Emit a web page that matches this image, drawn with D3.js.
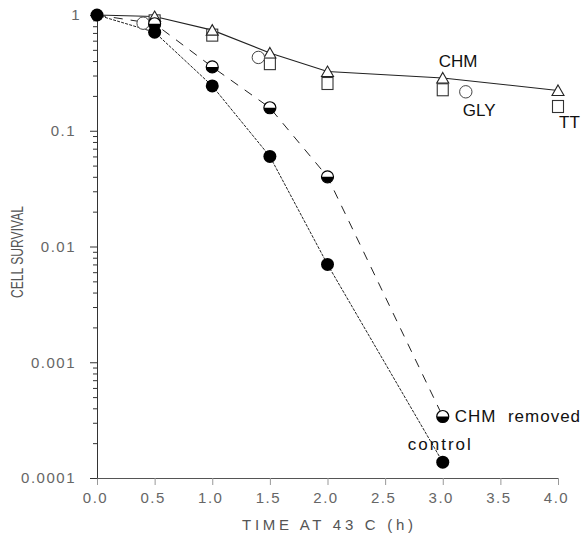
<!DOCTYPE html>
<html>
<head>
<meta charset="utf-8">
<script src="https://cdnjs.cloudflare.com/ajax/libs/d3/7.8.5/d3.min.js"></script>
<style>
	body { margin: 0; background: #fff; }
	svg { display: block; font-family: "Liberation Sans", Arial, sans-serif; }
	.tick-label { fill: #666; font-size: 15px; letter-spacing: 1.5px; }
	.series-label { fill: #111; font-size: 17px; white-space: pre; }
	.axis-title { fill: #555; font-size: 15px; }
</style>
</head>
<body>
<svg id="chart" width="586" height="538"></svg>
<script>
;( function() {

	"use strict";

	//hours at 43 C and surviving fraction
	var chmTime = [ 0, 0.5, 1, 1.5, 2, 3, 4 ],
		chmSurvival = [ 1, 0.97, 0.74, 0.47, 0.325, 0.286, 0.223 ];
	var ttTime = [ 0.5, 1, 1.5, 2, 3, 4 ],
		ttSurvival = [ 0.89, 0.67, 0.38, 0.256, 0.226, 0.162 ];
	var glyTime = [ 0.4, 1.4, 3.2 ],
		glySurvival = [ 0.85, 0.43, 0.217 ];
	var removedTime = [ 0, 0.5, 1, 1.5, 2, 3 ],
		removedSurvival = [ 1, 0.84, 0.356, 0.158, 0.04, 0.00034 ];
	var controlTime = [ 0, 0.5, 1, 1.5, 2, 3 ],
		controlSurvival = [ 1, 0.71, 0.244, 0.06, 0.007, 0.000137 ];

	//axis ticks
	var xTicks = [ 0, 0.5, 1, 1.5, 2, 2.5, 3, 3.5, 4 ],
		yLabels = [ "0.0001", "0.001", "0.01", "0.1", "1" ];

	var width = 586,
		height = 538,
		margin = { top: 15, right: 28, bottom: 60, left: 97 };

	var svg = d3.select( "#chart" );

	var x = d3.scaleLinear().domain( [ 0, 4 ] ).range( [ margin.left, width - margin.right ] ),
		y = d3.scaleLog().domain( [ 0.0001, 1 ] ).range( [ height - margin.bottom, margin.top ] );

	var zip = function( times, values ) {
		return times.map( function( t, i ) { return { t: t, v: values[ i ] }; } );
	};

	var isMajor = function( d ) {
		var l = Math.log10( d );
		return Math.abs( l - Math.round( l ) ) < 1e-6;
	};

	//x axis
	var gx = svg.append( "g" )
		.attr( "transform", "translate(0," + y.range()[ 0 ] + ")" )
		.call( d3.axisBottom( x ).tickValues( xTicks ).tickFormat( d3.format( ".1f" ) )
			.tickSize( 7 ).tickSizeOuter( 0 ).tickPadding( 7 ) );
	gx.select( ".domain" ).attr( "stroke", "#555" );
	gx.selectAll( ".tick line" ).attr( "stroke", "#999" );
	gx.selectAll( ".tick text" ).attr( "class", "tick-label" ).attr( "dx", -2 );

	//y axis, log with minor ticks
	var gy = svg.append( "g" )
		.attr( "transform", "translate(" + x.range()[ 0 ] + ",0)" )
		.call( d3.axisLeft( y ).tickValues( y.ticks() )
			.tickFormat( function( d ) { return isMajor( d ) ? yLabels[ Math.round( Math.log10( d ) ) + 4 ] : ""; } )
			.tickSize( 7 ).tickSizeOuter( 0 ).tickPadding( 14 ) );
	gy.select( ".domain" ).attr( "stroke", "#333" );
	gy.selectAll( ".tick line" ).attr( "stroke", "#333" )
		.attr( "x2", function( d ) { return isMajor( d ) ? -7 : -4; } );
	gy.selectAll( ".tick text" ).attr( "class", "tick-label" )
		//the top label sits a little further right in the original
		.attr( "dx", function( d ) { return d === 1 ? 5 : 0; } );

	//axis titles
	svg.append( "text" )
		.attr( "class", "axis-title" )
		.attr( "x", 242 )
		.attr( "y", 530 )
		.attr( "textLength", 171 )
		.attr( "lengthAdjust", "spacing" )
		.text( "TIME AT 43 C   (h)" );
	svg.append( "text" )
		.attr( "class", "axis-title" )
		.attr( "transform", "translate(23,252) rotate(-90)" )
		.attr( "text-anchor", "middle" )
		.attr( "textLength", 92 )
		.attr( "lengthAdjust", "spacingAndGlyphs" )
		.style( "font-size", "16px" )
		.text( "CELL SURVIVAL" );

	var line = d3.line()
		.x( function( d ) { return x( d.t ); } )
		.y( function( d ) { return y( d.v ); } );

	var chm = zip( chmTime, chmSurvival ),
		tt = zip( ttTime, ttSurvival ),
		gly = zip( glyTime, glySurvival ),
		removed = zip( removedTime, removedSurvival ),
		control = zip( controlTime, controlSurvival );

	//curves
	svg.append( "path" ).datum( control )
		.attr( "d", line ).attr( "fill", "none" )
		.attr( "stroke", "#222" ).attr( "stroke-width", 1 ).attr( "stroke-dasharray", "3,1.2" );
	svg.append( "path" ).datum( removed )
		.attr( "d", line ).attr( "fill", "none" )
		.attr( "stroke", "#222" ).attr( "stroke-width", 1 ).attr( "stroke-dasharray", "9,8" );
	svg.append( "path" ).datum( chm )
		.attr( "d", line ).attr( "fill", "none" )
		.attr( "stroke", "#222" ).attr( "stroke-width", 1.1 );

	var notZero = function( d ) { return d.t > 0; };

	//TT squares
	svg.append( "g" ).selectAll( "rect" ).data( tt ).join( "rect" )
		.attr( "x", function( d ) { return x( d.t ) - 5.5; } )
		.attr( "y", function( d ) { return y( d.v ) - 6; } )
		.attr( "width", 11 ).attr( "height", 12 )
		.attr( "fill", "#fff" ).attr( "stroke", "#333" ).attr( "stroke-width", 1.1 );

	//CHM triangles
	svg.append( "g" ).selectAll( "path" ).data( chm.filter( notZero ) ).join( "path" )
		.attr( "transform", function( d ) { return "translate(" + x( d.t ) + "," + y( d.v ) + ")"; } )
		.attr( "d", "M0,-5.5L6,5L-6,5Z" )
		.attr( "fill", "#fff" ).attr( "stroke", "#222" ).attr( "stroke-width", 1.1 );

	//GLY open circles
	svg.append( "g" ).selectAll( "circle" ).data( gly ).join( "circle" )
		.attr( "cx", function( d ) { return x( d.t ); } )
		.attr( "cy", function( d ) { return y( d.v ); } )
		.attr( "r", 6.2 )
		.attr( "fill", "#fff" ).attr( "stroke", "#444" ).attr( "stroke-width", 1 );

	//CHM removed, half filled circles
	var half = svg.append( "g" ).selectAll( "g" ).data( removed.filter( notZero ) ).join( "g" )
		.attr( "transform", function( d ) { return "translate(" + x( d.t ) + "," + y( d.v ) + ")"; } );
	half.append( "circle" ).attr( "r", 6 )
		.attr( "fill", "#fff" ).attr( "stroke", "#000" ).attr( "stroke-width", 1.2 );
	half.append( "path" ).attr( "d", "M-6,0A6,6 0 0 0 6,0Z" ).attr( "fill", "#000" );

	//control, filled circles
	svg.append( "g" ).selectAll( "circle" ).data( control ).join( "circle" )
		.attr( "cx", function( d ) { return x( d.t ); } )
		.attr( "cy", function( d ) { return y( d.v ); } )
		.attr( "r", 6.5 )
		.attr( "fill", "#000" );

	//series labels, placed next to a point of their series
	var labels = [
		{ text: "CHM", d: chm[ 5 ], dx: -4, dy: -11 },
		{ text: "GLY", d: gly[ 2 ], dx: -3, dy: 24 },
		{ text: "TT", d: tt[ 5 ], dx: 1, dy: 21.5 },
		{ text: "CHM  removed", d: removed[ 5 ], dx: 12, dy: 6, spacing: 1 },
		{ text: "control", d: control[ 5 ], dx: -35, dy: -12, spacing: 2 }
	];
	svg.append( "g" ).selectAll( "text" ).data( labels ).join( "text" )
		.attr( "class", "series-label" )
		.attr( "x", function( l ) { return x( l.d.t ) + l.dx; } )
		.attr( "y", function( l ) { return y( l.d.v ) + l.dy; } )
		.style( "letter-spacing", function( l ) { return ( l.spacing || 0 ) + "px"; } )
		.text( function( l ) { return l.text; } );

})();
</script>
</body>
</html>
